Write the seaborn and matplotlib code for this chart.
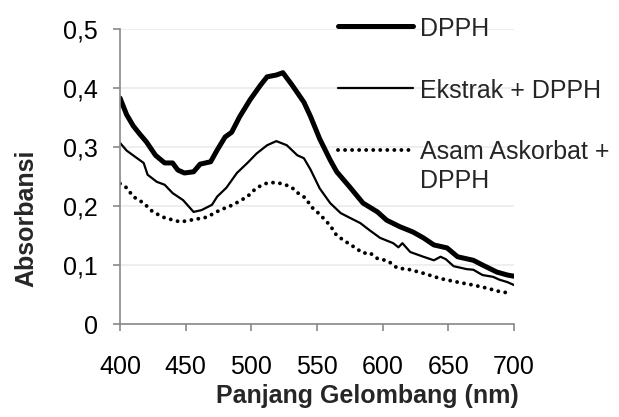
import numpy as np
import pandas as pd
import seaborn as sns
from matplotlib import pyplot as plt

# data
dpph_x = [400, 405, 410, 415, 420, 427, 434, 440, 444, 449, 456, 461, 469, 474, 480, 485, 491, 499, 507, 512,
          519, 524, 531, 540, 545, 552, 560, 565, 575, 585, 596, 603, 613, 623, 631, 639, 649, 657, 669, 676,
          687, 695, 700]
dpph_y = [0.383, 0.355, 0.336, 0.322, 0.309, 0.286, 0.273, 0.273, 0.261, 0.256, 0.258, 0.271, 0.275, 0.295,
          0.317, 0.325, 0.351, 0.380, 0.405, 0.419, 0.422, 0.426, 0.405, 0.376, 0.352, 0.314, 0.278, 0.258,
          0.232, 0.205, 0.190, 0.176, 0.165, 0.156, 0.146, 0.134, 0.129, 0.114, 0.108, 0.100, 0.088, 0.083, 0.081]

ekstrak_x = [400, 405, 413, 418, 421, 428, 434, 440, 448, 456, 462, 470, 474, 481, 489, 497, 504, 512, 519, 527,
             535, 540, 545, 552, 560, 568, 575, 583, 590, 598, 608, 612, 615, 621, 631, 639, 644, 648, 654, 664,
             669, 676, 684, 689, 695, 700]
ekstrak_y = [0.307, 0.294, 0.281, 0.273, 0.253, 0.241, 0.236, 0.222, 0.210, 0.190, 0.193, 0.202, 0.216, 0.231,
             0.256, 0.273, 0.289, 0.303, 0.310, 0.303, 0.286, 0.281, 0.262, 0.230, 0.205, 0.188, 0.180, 0.171,
             0.159, 0.146, 0.137, 0.130, 0.137, 0.122, 0.114, 0.108, 0.114, 0.110, 0.098, 0.093, 0.092, 0.083,
             0.080, 0.075, 0.071, 0.066]

asam_x = [400, 405, 410, 418, 425, 434, 446, 456, 466, 476, 486, 497, 504, 512, 519, 526, 531, 536, 541, 546,
          551, 555, 560, 565, 573, 580, 585, 590, 596, 604, 611, 621, 631, 644, 657, 669, 679, 689, 695]
asam_y = [0.238, 0.231, 0.216, 0.205, 0.190, 0.180, 0.173, 0.177, 0.181, 0.193, 0.202, 0.216, 0.231, 0.239,
          0.240, 0.236, 0.231, 0.221, 0.214, 0.198, 0.188, 0.179, 0.167, 0.150, 0.138, 0.128, 0.120, 0.121,
          0.111, 0.107, 0.095, 0.092, 0.086, 0.077, 0.071, 0.066, 0.061, 0.055, 0.053]

series_names = ['DPPH', 'Ekstrak + DPPH', 'Asam Askorbat +\nDPPH']
x_ticks = [400, 450, 500, 550, 600, 650, 700]
y_ticks = [0, 0.1, 0.2, 0.3, 0.4, 0.5]
y_tick_labels = ['0', '0,1', '0,2', '0,3', '0,4', '0,5']

sns.set_theme(style='white')
plt.rcParams['font.family'] = ['Liberation Sans', 'DejaVu Sans']

fig = plt.figure(figsize=(6.19, 4.17), dpi=100)
ax = fig.add_axes([0.1939, 0.223, 0.6365, 0.7074])

fontsize = 18
grey = '#898989'

# spectra
sns.lineplot(x=dpph_x, y=dpph_y, ax=ax, color='black', linewidth=3.6, label=series_names[0], sort=False)
sns.lineplot(x=ekstrak_x, y=ekstrak_y, ax=ax, color='black', linewidth=1.6, label=series_names[1], sort=False)
sns.lineplot(x=asam_x, y=asam_y, ax=ax, color='black', linewidth=2.8, label=series_names[2], sort=False,
             linestyle=(0, (0.01, 1.8)), dash_capstyle='round')

# axes setup
ax.set_xlim(400, 700)
ax.set_ylim(0, 0.5)
ax.set_xticks(x_ticks)
ax.set_yticks(y_ticks)
ax.set_yticklabels(y_tick_labels)
ax.yaxis.grid(True, color='#ebebeb', linewidth=1.2)
ax.set_axisbelow(True)
for side in ['top', 'right']:
    ax.spines[side].set_visible(False)
for side in ['left', 'bottom']:
    ax.spines[side].set_color(grey)
    ax.spines[side].set_linewidth(1.2)
ax.tick_params(axis='y', direction='out', length=5, width=1.2, color=grey, pad=11, left=True,
               labelsize=fontsize, labelcolor='black')
ax.tick_params(axis='x', direction='out', length=5, width=1.2, color=grey, pad=17, bottom=True,
               labelsize=fontsize, labelcolor='black')

ax.set_xlabel('Panjang Gelombang (nm)', fontsize=fontsize, fontweight='bold', va='center')
ax.set_ylabel('Absorbansi', fontsize=fontsize, fontweight='bold', va='center')
ax.xaxis.set_label_coords(0.629, -0.245)
ax.yaxis.set_label_coords(-0.237, 0.359)

# legend on the right, no frame
leg = ax.legend(loc='upper left', bbox_to_anchor=(0.546, 0.961), bbox_transform=fig.transFigure,
                frameon=False, fontsize=fontsize, handlelength=3.0, handletextpad=0.3, labelspacing=1.46,
                handleheight=1.05, borderpad=0, borderaxespad=0)
for txt in leg.get_texts():
    txt.set_linespacing(1.3)
# the two-line entry: put its handle level with the first line, like the original
rows = leg._legend_handle_box.get_children()[0].get_children()
rows[2].align = 'top'

plt.savefig('out.png', dpi=100)
